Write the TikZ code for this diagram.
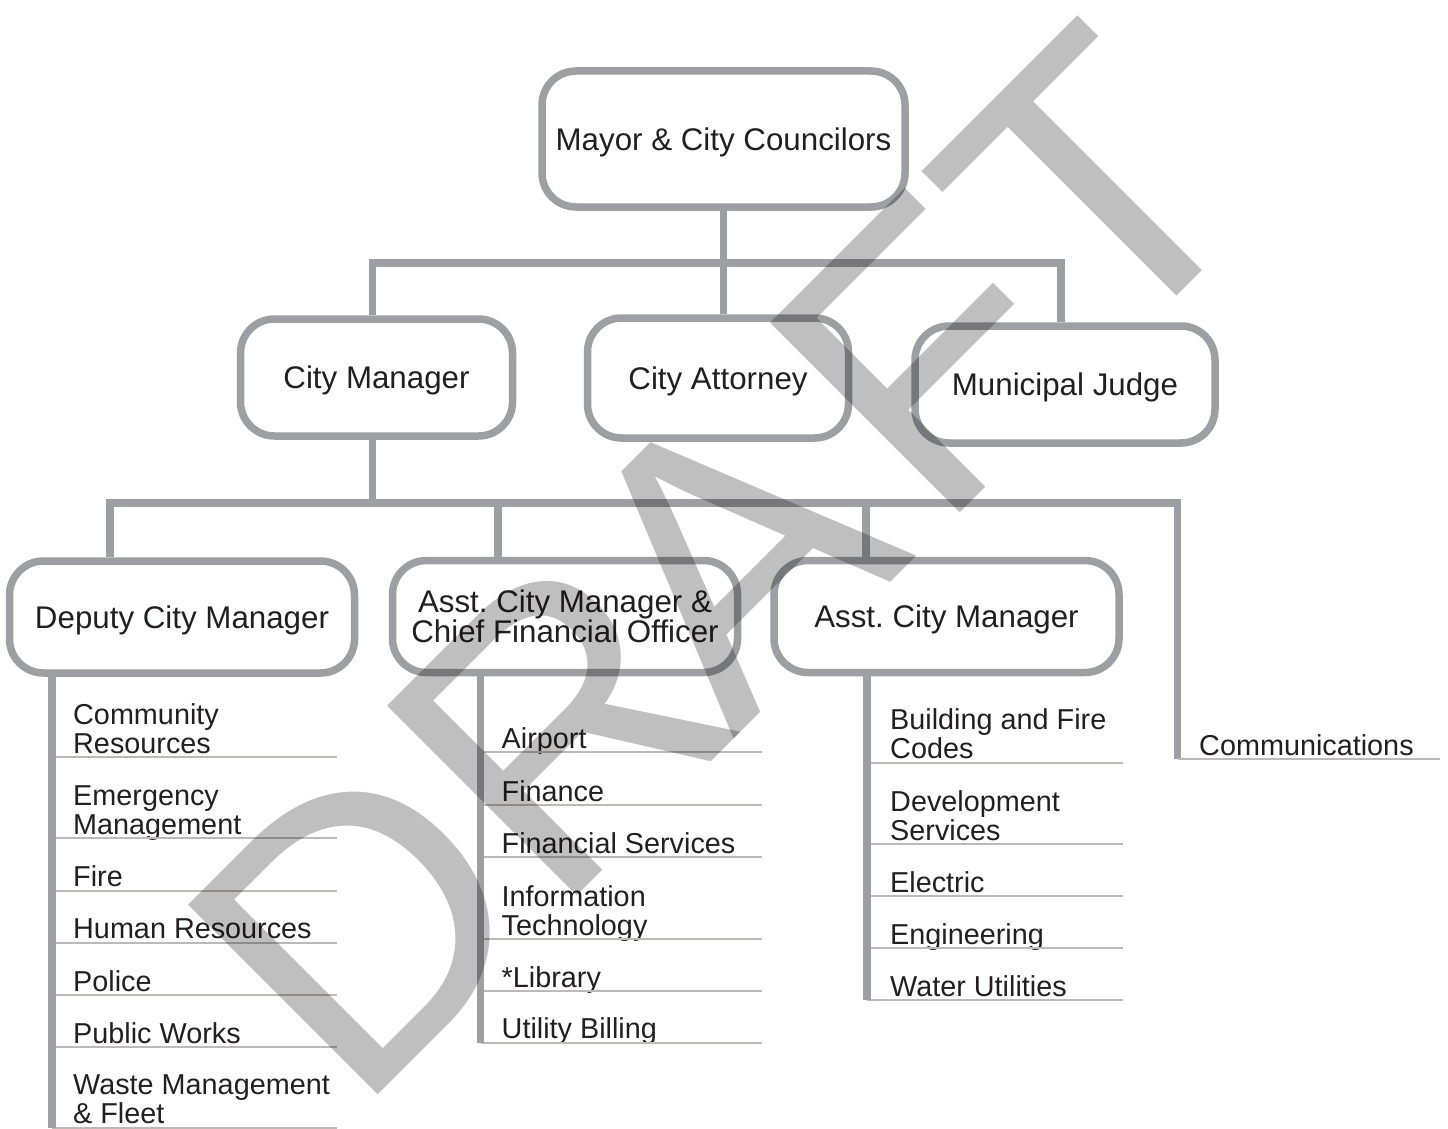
\documentclass[tikz,border=0pt]{standalone}
\usepackage{fontspec}
\setmainfont{Liberation Sans}
\usepackage{tikz}
\usetikzlibrary{positioning}

\definecolor{linegray}{RGB}{158,159,163}
\definecolor{rulegray}{RGB}{190,185,182}
\definecolor{ink}{RGB}{35,31,32}

\begin{document}
\begin{tikzpicture}[x=1pt, y=-1pt,
			office/.style = {draw=linegray, line width=7.5pt, rounded corners=34pt, fill=white, text=ink, align=center, inner sep=0pt,
				font=\fontsize{31.3}{30}\selectfont, text height=22pt, text depth=0pt, minimum width=345pt, minimum height=112pt},
			item/.style = {anchor=south west, inner sep=0pt, text depth=3.5pt, align=left, text=ink,
				font=\fontsize{28.8}{29}\selectfont},
			conn/.style = {draw=linegray, line width=7.5pt},
			rule/.style = {draw=rulegray, line width=2pt}]
			
			\useasboundingbox (0,0) rectangle (1448,1129);
			
			% top of the chart and its three offices
			\node[office, minimum width=363pt, minimum height=136pt] (mayor) at (723.5,139) {Mayor \& City Councilors};
			\node[office, minimum width=272pt, minimum height=117pt] (manager) at (376.5,377.5) {City Manager};
			\node[office, minimum width=261pt, minimum height=120pt] (attorney) at (718,378) {City Attorney};
			\node[office, minimum width=300pt, minimum height=117pt] (judge) at (1065,384.5) {Municipal Judge};
			
			% offices under the city manager
			\node[office] (deputy) at (182,617) {Deputy City Manager};
			\node[office, text height=52pt] (finance) at (565,616.5) {Asst.\ City Manager \&\\Chief Financial Officer};
			\node[office] (assistant) at (946.5,616.5) {Asst.\ City Manager};
			
			% joints of the two bars
			\coordinate (t1) at (372.5,263);
			\coordinate (t3) at (1061,263);
			\coordinate (b0) at (372.5,503);
			\coordinate (b1) at (110,503);
			\coordinate (b2) at (498,503);
			\coordinate (b3) at (866,503);
			\coordinate (b4) at (1177.5,503);
			
			% left and right ends of the department lists
			\coordinate (dl) at (52,0);    \coordinate (dr) at (337,0);
			\coordinate (fl) at (480.5,0); \coordinate (fr) at (762,0);
			\coordinate (al) at (867,0);   \coordinate (ar) at (1123,0);
			\coordinate (cr) at (1440,0);
			
			% departments, each sitting on its rule
			\node[item] (d1) at (73,757) {Community\\Resources};
			\node[below=81pt of d1.south west, item] (d2) {Emergency\\Management};
			\node[below=52.5pt of d2.south west, item] (d3) {Fire};
			\node[below=52pt of d3.south west, item] (d4) {Human Resources};
			\node[below=52.2pt of d4.south west, item] (d5) {Police};
			\node[below=52.3pt of d5.south west, item] (d6) {Public Works};
			\node[below=80.5pt of d6.south west, item] (d7) {Waste Management\\\& Fleet};
			
			\node[item] (f1) at (501.5,752) {Airport};
			\node[below=53pt of f1.south west, item] (f2) {Finance};
			\node[below=52.3pt of f2.south west, item] (f3) {Financial Services};
			\node[below=81.7pt of f3.south west, item] (f4) {Information\\Technology};
			\node[below=52.3pt of f4.south west, item] (f5) {*Library};
			\node[below=51.2pt of f5.south west, item] (f6) {Utility Billing};
			
			\node[item] (a1) at (890,762.5) {Building and Fire\\Codes};
			\node[below=81.5pt of a1.south west, item] (a2) {Development\\Services};
			\node[below=52pt of a2.south west, item] (a3) {Electric};
			\node[below=52pt of a3.south west, item] (a4) {Engineering};
			\node[below=52pt of a4.south west, item] (a5) {Water Utilities};
			
			\node[item] (comm) at (1199,759) {Communications};
			
			% upper bar
			\draw[conn] (mayor.south) -- (mayor.south |- attorney.north);
			\draw[conn] (manager.north -| t1) |- (t3) -- (t3 |- judge.north);
			
			% lower bar
			\draw[conn] (manager.south -| b0) -- (b0);
			\draw[conn] (deputy.north -| b1) |- (b4) -- (b4 |- comm.south);
			\foreach \j/\n in {b2/finance, b3/assistant}
			\draw[conn] (\j) -- (\j |- \n.north);
			
			% rules under the departments
			\foreach \i in {1,...,7}
			\draw[rule] (dl |- d\i.south) -- (dr |- d\i.south);
			\foreach \i in {1,...,6}
			\draw[rule] (fl |- f\i.south) -- (fr |- f\i.south);
			\foreach \i in {1,...,5}
			\draw[rule] (al |- a\i.south) -- (ar |- a\i.south);
			\draw[rule] (b4 |- comm.south) -- (cr |- comm.south);
			
			% stems down the lists
			\draw[conn] (deputy.south -| dl) -- (dl |- d7.south);
			\draw[conn] (finance.south -| fl) -- (fl |- f6.south);
			\draw[conn] (assistant.south -| al) -- (al |- a5.south);
			
			% watermark over everything
			\node[rotate=45, anchor=base west, inner sep=0pt, text=black, text opacity=0.25,
			font=\fontsize{390}{390}\selectfont] (draft) at (355,1118) {DR\kern-28pt A\kern28pt FT};
		\end{tikzpicture}
\end{document}
